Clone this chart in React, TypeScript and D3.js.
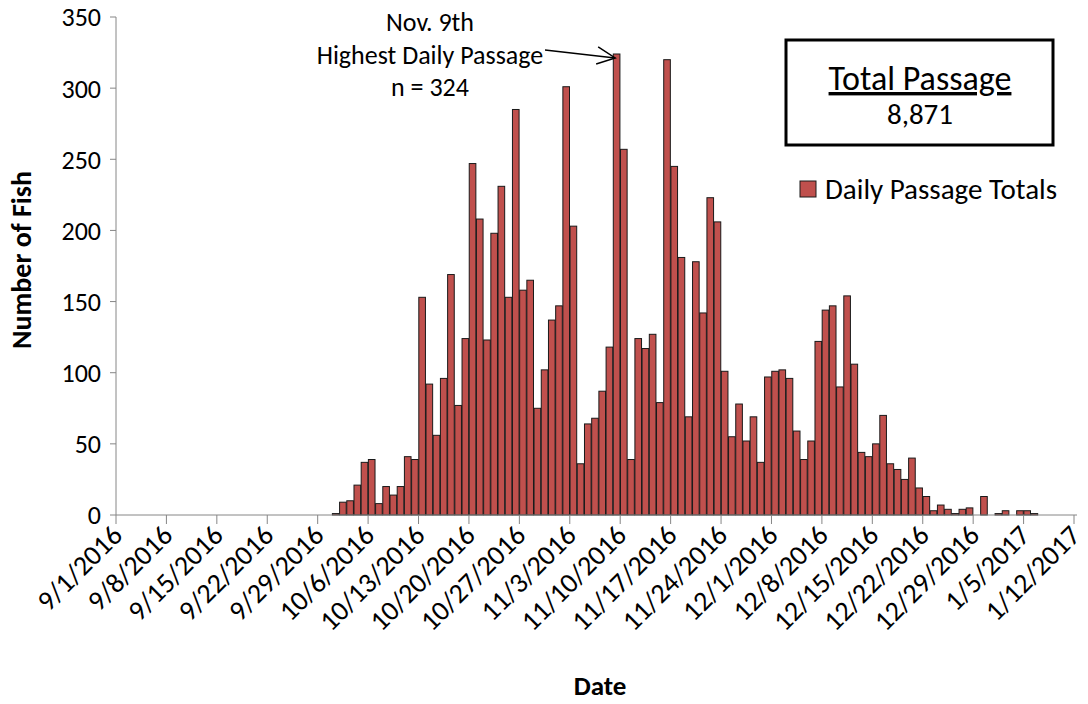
import React from "react";
import * as d3 from "d3";

const startDate = "2016-10-01";
const dailyPassage = [
  1, 9, 10, 21, 37, 39, 8, 20, 14, 20, 41, 39,
  153, 92, 56, 96, 169, 77, 124,
  247, 208, 123, 198, 231, 153, 285,
  158, 165, 75, 102, 137, 147, 301,
  203, 36, 64, 68, 87, 118, 324,
  257, 39, 124, 117, 127, 79, 320,
  245, 181, 69, 178, 142, 223, 206,
  101, 55, 78, 52, 69, 37, 97,
  101, 102, 96, 59, 39, 52, 122,
  144, 147, 90, 154, 106, 44, 41,
  50, 70, 36, 32, 25, 40, 19,
  13, 3, 7, 4, 1, 4, 5,
  0, 13, 0, 1, 3, 0, 3, 3, 1,
];
const xTickLabels = [
  "9/1/2016", "9/8/2016", "9/15/2016", "9/22/2016", "9/29/2016", "10/6/2016",
  "10/13/2016", "10/20/2016", "10/27/2016", "11/3/2016", "11/10/2016",
  "11/17/2016", "11/24/2016", "12/1/2016", "12/8/2016", "12/15/2016",
  "12/22/2016", "12/29/2016", "1/5/2017", "1/12/2017",
];
const yTicks = [0, 50, 100, 150, 200, 250, 300, 350];
const axisStart = "2016-09-01";
const axisEnd = "2017-01-12";

const FONT = "Carlito, Lato, 'Open Sans', sans-serif";

export default function App() {
  const W = 1088, H = 704;
  const left = 116, right = 1074, top = 17, bottom = 515;
  const parse = d3.utcParse("%Y-%m-%d");
  const d0 = parse(axisStart)!;
  const d1 = parse(axisEnd)!;
  const x = d3.scaleUtc().domain([d0, d1]).range([left, right]);
  const y = d3.scaleLinear().domain([0, 350]).range([bottom, top]);
  const s = parse(startDate)!;
  const bars = dailyPassage.map((v, i) => ({ date: d3.utcDay.offset(s, i), v }));
  const dayW = x(d3.utcDay.offset(d0, 1)) - x(d0);
  const bw = dayW * 0.92;
  const tickDates = xTickLabels.map((_, i) => d3.utcDay.offset(d0, i * 7));
  const axisColor = "#868686";

  const peakX = x(parse("2016-11-09")!) + dayW * 0.3;
  const peakY = y(324) + 4;

  return (
    <svg width={W} height={H} style={{ position: "absolute", left: 0, top: 0, background: "#fff" }} fontFamily={FONT}>
      {bars.filter(b => b.v > 0).map((b, i) => (
        <rect key={i} x={x(b.date) + (dayW - bw) / 2} y={y(b.v)} width={bw} height={bottom - y(b.v)}
          fill="#C0504D" stroke="#1a1a1a" strokeWidth={1} />
      ))}
      <line x1={left} x2={left} y1={top} y2={bottom} stroke={axisColor} strokeWidth={1} />
      {yTicks.map(t => (
        <g key={t}>
          <line x1={left - 6} x2={left} y1={y(t)} y2={y(t)} stroke={axisColor} />
          <text x={101} y={y(t)} dy="0.36em" textAnchor="end" fontSize={26} fill="#000">{t}</text>
        </g>
      ))}
      <line x1={left} x2={right + 3} y1={bottom} y2={bottom} stroke={axisColor} strokeWidth={1} />
      {tickDates.map((d, i) => (
        <g key={i}>
          <line x1={x(d)} x2={x(d)} y1={bottom} y2={bottom + 9} stroke={axisColor} />
          <text transform={`translate(${x(d) + 1},${bottom + 15}) rotate(-45)`} textAnchor="end" dy="0.35em"
            fontSize={28} fill="#000">{xTickLabels[i]}</text>
        </g>
      ))}
      <text x={600} y={695} textAnchor="middle" fontSize={27} fontWeight="bold" fill="#000">Date</text>
      <text transform="translate(31,260) rotate(-90)" textAnchor="middle" fontSize={28} fontWeight="bold" fill="#000">Number of Fish</text>
      <text x={430} y={31} textAnchor="middle" fontSize={26} fill="#000">Nov. 9th</text>
      <text x={430} y={64} textAnchor="middle" fontSize={26} fill="#000">Highest Daily Passage</text>
      <text x={430} y={96} textAnchor="middle" fontSize={26} fill="#000">n = 324</text>
      <line x1={545} y1={50} x2={peakX} y2={peakY} stroke="#000" strokeWidth={1.5} />
      <polyline points={`${peakX - 17},${peakY - 11} ${peakX},${peakY} ${peakX - 19},${peakY + 6}`} fill="none" stroke="#000" strokeWidth={1.5} />
      <rect x={786} y={40} width={267} height={105} fill="#fff" stroke="#000" strokeWidth={3} />
      <text x={920} y={90} textAnchor="middle" fontSize={34} fill="#000" textDecoration="underline">Total Passage</text>
      <text x={920} y={124} textAnchor="middle" fontSize={29} fill="#000">8,871</text>
      <rect x={800} y={181} width={16} height={16} fill="#C0504D" stroke="#1a1a1a" strokeWidth={1} />
      <text x={825} y={199} fontSize={29} fill="#000">Daily Passage Totals</text>
    </svg>
  );
}
